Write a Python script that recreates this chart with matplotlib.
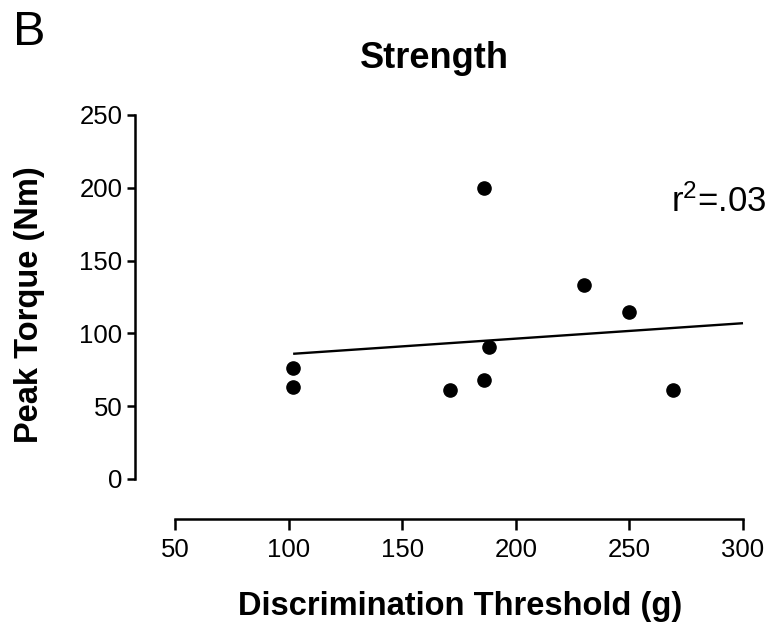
import matplotlib
matplotlib.use("Agg")
import matplotlib.pyplot as plt

plt.rcParams['font.family'] = ['Liberation Sans', 'DejaVu Sans']
plt.rcParams['mathtext.fontset'] = 'custom'
plt.rcParams['mathtext.rm'] = 'Liberation Sans'
plt.rcParams['mathtext.it'] = 'Liberation Sans'

# Data
threshold_g = [102, 102, 171, 186, 186, 188, 230, 250, 269]
peak_torque = [76, 63, 61, 200, 68, 91, 133, 114.5, 61]
fit_x = [102, 300]
fit_y = [86, 107]
x_ticks = [50, 100, 150, 200, 250, 300]
y_ticks = [0, 50, 100, 150, 200, 250]

W, H = 774, 634
fig = plt.figure(figsize=(W / 100, H / 100), dpi=100)
# axes data region in pixels: x 175..743, y(top) 115..479
ax = fig.add_axes([175 / W, (H - 479) / H, (743 - 175) / W, (479 - 115) / H])

ax.plot(fit_x, fit_y, color='black', lw=1.7, solid_capstyle='butt', clip_on=False)
ax.plot(threshold_g, peak_torque, 'o', color='black', ms=9.5, clip_on=False)

ax.set_xlim(50, 300)
ax.set_ylim(0, 250)
ax.set_xticks(x_ticks)
ax.set_yticks(y_ticks)

for s in ('top', 'right'):
    ax.spines[s].set_visible(False)
off = 40 * 72 / 100  # 40 px in points
ax.spines['left'].set_position(('outward', off))
ax.spines['bottom'].set_position(('outward', off))
for s in ('left', 'bottom'):
    ax.spines[s].set_linewidth(1.8)

ax.tick_params(axis='y', direction='out', length=6, width=1.8, labelsize=18.5, pad=3)
ax.tick_params(axis='x', direction='out', length=8, width=1.8, labelsize=18.5, pad=6)

fig.text(13 / W, 1 - 45 / H, 'B', fontsize=35, ha='left', va='baseline')
fig.text(434 / W, 1 - 68 / H, 'Strength', fontsize=26, fontweight='bold',
         ha='center', va='baseline')
fig.text(30 / W, 1 - 305 / H, 'Peak Torque (Nm)', fontsize=23.5, fontweight='bold',
         rotation=90, ha='center', va='center')
fig.text(460 / W, 1 - 607 / H, 'Discrimination Threshold (g)', fontsize=23.5,
         fontweight='bold', ha='center', va='center')
fig.text(671 / W, 1 - 212 / H, r'r$^{2}$=.03', fontsize=25, ha='left',
         va='baseline')

fig.savefig('out.png', dpi=100)
